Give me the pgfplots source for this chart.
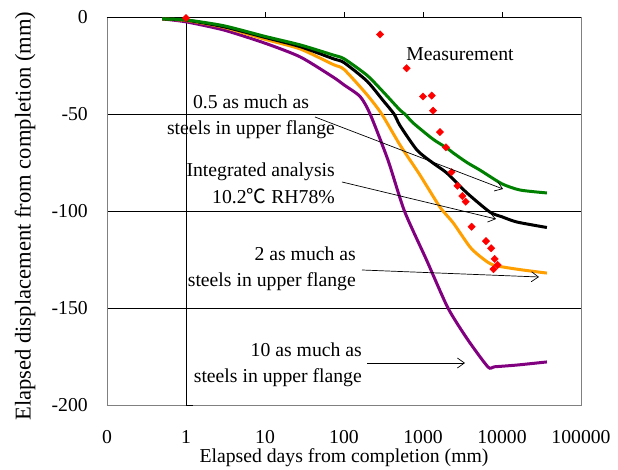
\documentclass[border=0pt]{standalone}
\usepackage{fontspec}
\setmainfont{Liberation Serif}
\newfontfamily\cjk{Noto Sans CJK JP}
\usepackage{pgfplots}
\pgfplotsset{compat=1.18}
\usetikzlibrary{arrows.meta}

\definecolor{cgreen}{HTML}{008000}
\definecolor{corange}{HTML}{FFA000}
\definecolor{cpurple}{HTML}{800080}
\newcommand{\lbl}{\fontsize{19.7bp}{26.5bp}\selectfont}
\newcommand{\ylbl}{\fontsize{22.6bp}{28bp}\selectfont}

\begin{document}
\begin{tikzpicture}
\begin{axis}[
    at={(107bp,65bp)}, anchor=south west,
    scale only axis, width=474bp, height=388bp,
    xmode=log, xmin=0.1, xmax=100000,
    ymin=-200, ymax=0,
    clip=false,
    axis line style={draw=gray, line width=0.8bp},
    xtick={0.1,1,10,100,1000,10000,100000},
    xticklabels={0,1,10,100,1000,10000,100000},
    ytick={-200,-150,-100,-50,0},
    yticklabels={-200,-150,-100,-50,0},
    tick style={draw=none},
    ymajorgrids, grid style={black, line width=0.6bp},
    tick label style={font=\lbl, inner sep=0pt},
    yticklabel style={xshift=-19bp},
    xticklabel style={yshift=-25bp},
    every axis plot/.append style={smooth, tension=0.4},
  ]
  % axis lines crossing at x=1 and y=0, with their tick marks
  \draw[black, line width=0.8bp] (axis cs:1,-200) -- (axis cs:1,0);
  \draw[black, line width=0.8bp] (axis cs:0.1,0) -- (axis cs:100000,0);
  \draw[black, line width=0.8bp] (axis cs:10,0) -- ([yshift=5bp]axis cs:10,0);
  \draw[black, line width=0.8bp] (axis cs:100,0) -- ([yshift=5bp]axis cs:100,0);
  \draw[black, line width=0.8bp] (axis cs:1000,0) -- ([yshift=5bp]axis cs:1000,0);
  \draw[black, line width=0.8bp] (axis cs:10000,0) -- ([yshift=5bp]axis cs:10000,0);
  \draw[black, line width=0.8bp] (axis cs:1,-50) -- ([xshift=7bp]axis cs:1,-50);
  \draw[black, line width=0.8bp] (axis cs:1,-100) -- ([xshift=7bp]axis cs:1,-100);
  \draw[black, line width=0.8bp] (axis cs:1,-150) -- ([xshift=7bp]axis cs:1,-150);
  \draw[black, line width=0.8bp] (axis cs:1,-200) -- ([xshift=7bp]axis cs:1,-200);

  % 10 as much
  \addplot[cpurple, line width=3bp] coordinates {
    (0.5,-1)(1,-2.5)(3,-6.7)(10,-13.5)(28,-20.6)(73,-31)(100,-35)(160,-41)
    (214,-50)(360,-73.7)(582,-100)(1110,-125.3)(2070,-150)(3710,-166.5)
    (6650,-180.4)(8000,-180.3)(15500,-179.4)(37000,-177.8)
  };
  % 2 as much
  \addplot[corange, line width=3bp] coordinates {
    (0.5,-1)(1,-1.8)(3,-5.3)(10,-11.5)(28,-16.5)(73,-24.5)(100,-27)(195,-40)
    (300,-50)(512,-66)(900,-81)(1640,-98)(2400,-106)(3940,-118.6)(5500,-124)
    (7700,-127.8)(15500,-130)(37000,-132)
  };
  % integrated analysis
  \addplot[black, line width=3bp] coordinates {
    (0.5,-1)(1,-1.6)(3,-5)(10,-10.5)(28,-15.3)(73,-21.5)(100,-23.5)(195,-33)
    (312,-43)(430,-50)(512,-56)(840,-68.6)(1340,-75.3)(2000,-80.4)
    (3600,-90.7)(7000,-100.5)(10000,-103)(15500,-105.7)(37000,-108.5)
  };
  % 0.5 as much
  \addplot[cgreen, line width=3bp] coordinates {
    (0.5,-1)(1,-1.5)(3,-4.5)(10,-10)(28,-14.4)(73,-19.6)(100,-21.5)(195,-30)
    (312,-38.5)(512,-48)(590,-50)(750,-54.6)(1340,-63)(2000,-67.5)(2400,-70)
    (3600,-75)(5300,-79)(10000,-86)(17000,-89.2)(37000,-90.7)
  };
  % measurement
  \addplot[only marks, mark=square*, mark size=2.6bp,
           mark options={rotate=45, fill=red, draw=red}] coordinates {
    (1,-0.5)(286,-9)(620,-26.4)(1000,-41)(1290,-40.5)(1340,-48.3)(1640,-59.3)
    (1950,-67.2)(2300,-80)(2730,-87)(3150,-92.3)(3470,-95.2)(4120,-108.1)
    (6270,-115.5)(7300,-119.2)(8070,-124.7)(8800,-127.8)(7800,-130)
  };
\end{axis}

\begin{scope}[x=1bp, y=-1bp, yshift=470bp]
  \node[font=\lbl, inner sep=0pt] at (460,54) {Measurement};
  \node[font=\lbl, inner sep=0pt, align=center] at (251,117)
    {0.5 as much as\\steels in upper flange};
  \node[font=\lbl, inner sep=0pt, align=right, anchor=east] at (335,183.5)
    {Integrated analysis\\10.2{\cjk ℃} RH78\%};
  \node[font=\lbl, inner sep=0pt, align=right, anchor=east] at (356,269)
    {2 as much as\\steels in upper flange};
  \node[font=\lbl, inner sep=0pt, align=right, anchor=east] at (362,365)
    {10 as much as\\steels in upper flange};
  \draw[line width=0.7bp, -{Straight Barb[length=7bp,width=10bp]}] (315,117) -- (503,189);
  \draw[line width=0.7bp, -{Straight Barb[length=7bp,width=10bp]}] (342,182) -- (496,219);
  \draw[line width=0.7bp, -{Straight Barb[length=7bp,width=10bp]}] (362,270) -- (539,277);
  \draw[line width=0.7bp, -{Straight Barb[length=7bp,width=10bp]}] (367,363) -- (465,363);
  \node[font=\lbl, inner sep=0pt] at (344,458) {Elapsed days from completion (mm)};
  \node[font=\ylbl, inner sep=0pt, rotate=90, anchor=west] at (25,421)
    {Elapsed displacement from completion (mm)};
\end{scope}

\pgfresetboundingbox
\useasboundingbox (0,0) rectangle (618bp,470bp);
\end{tikzpicture}
\end{document}
